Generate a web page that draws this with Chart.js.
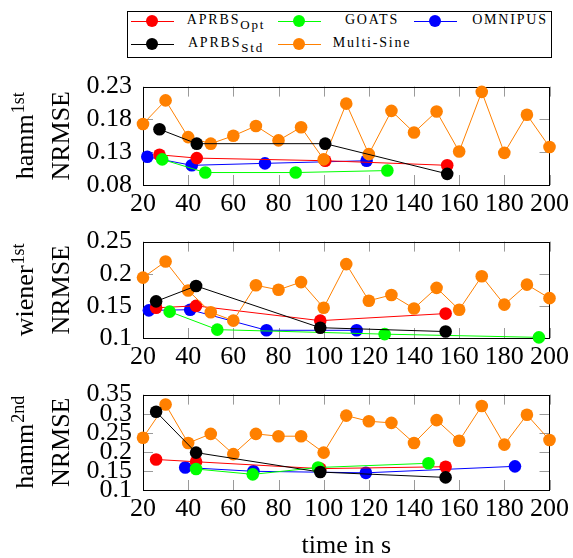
<!DOCTYPE html>
<html>
<head>
<meta charset="utf-8">
<script src="https://cdn.jsdelivr.net/npm/chart.js@4"></script>
<style>
  body { margin: 0; background: #fff; width: 573px; height: 558px; position: relative; overflow: hidden; }
  canvas { position: absolute; left: 0; }
  #legend { position: absolute; left: 127px; top: 11px; width: 425px; height: 47px; box-sizing: border-box; border: 1px solid #000;
            font-family: "Liberation Serif", serif; font-size: 14px; letter-spacing: 1.8px; color: #000; }
  .item { position: absolute; height: 14px; }
  .mark { position: absolute; width: 43px; height: 1px; top: 7px; }
  .mark i { position: absolute; left: 15px; top: -6px; width: 12px; height: 12px; border-radius: 50%; }
  .lab { position: absolute; top: -2px; text-align: center; white-space: nowrap; line-height: 16px; }
  .lab sub { font-size: 13px; vertical-align: -5px; line-height: 0; }
</style>
</head>
<body>
<div id="legend"></div>
<canvas id="p1" width="573" height="155" style="top:60px"></canvas>
<canvas id="p2" width="573" height="153" style="top:215px"></canvas>
<canvas id="p3" width="573" height="190" style="top:368px"></canvas>
<script>
// shared x values of the multi-sine runs and the x ticks
const msTime = [20, 30, 40, 50, 60, 70, 80, 90, 100, 110, 120, 130, 140, 150, 160, 170, 180, 190, 200];
const xTicks = [20, 40, 60, 80, 100, 120, 140, 160, 180, 200];

// hamm 1st
const h1Opt = [[27.3, 0.126], [43.8, 0.121], [100.7, 0.117], [154.7, 0.110]];
const h1Std = [[27.3, 0.165], [43.8, 0.143], [100.7, 0.143], [154.7, 0.097]];
const h1Goats = [[28.5, 0.119], [47.6, 0.099], [87.6, 0.099], [128.2, 0.102]];
const h1Omni = [[21.9, 0.123], [41.6, 0.110], [74.0, 0.113], [119.0, 0.117]];
const h1Ms = [0.173, 0.209, 0.153, 0.143, 0.155, 0.170, 0.148, 0.168, 0.119, 0.204, 0.127, 0.193, 0.160, 0.192, 0.131, 0.222, 0.129, 0.187, 0.138];
const h1YTicks = [0.08, 0.13, 0.18, 0.23];

// wiener 1st
const w1Opt = [[25.8, 0.147], [43.5, 0.150], [98.5, 0.127], [154.0, 0.138]];
const w1Std = [[25.8, 0.157], [43.5, 0.181], [98.5, 0.116], [154.0, 0.110]];
const w1Goats = [[31.8, 0.141], [52.9, 0.113], [127.0, 0.106], [195.3, 0.101]];
const w1Omni = [[22.6, 0.143], [40.9, 0.144], [74.7, 0.112], [114.6, 0.112]];
const w1Ms = [0.194, 0.219, 0.174, 0.140, 0.127, 0.182, 0.175, 0.187, 0.147, 0.215, 0.158, 0.167, 0.146, 0.178, 0.144, 0.196, 0.152, 0.183, 0.162];
const w1YTicks = [0.1, 0.15, 0.2, 0.25];

// hamm 2nd
const h2Opt = [[25.8, 0.180], [43.5, 0.174], [98.5, 0.156], [154.0, 0.161]];
const h2Std = [[25.8, 0.305], [43.5, 0.198], [98.5, 0.147], [154.0, 0.133]];
const h2Goats = [[43.5, 0.155], [68.6, 0.141], [97.5, 0.159], [146.4, 0.170]];
const h2Omni = [[38.7, 0.159], [68.9, 0.149], [118.7, 0.145], [184.7, 0.162]];
const h2Ms = [0.237, 0.324, 0.223, 0.247, 0.194, 0.247, 0.241, 0.241, 0.198, 0.295, 0.280, 0.276, 0.223, 0.283, 0.229, 0.320, 0.219, 0.297, 0.231];
const h2YTicks = [0.1, 0.15, 0.2, 0.25, 0.3, 0.35];

const colors = { opt: 'rgb(255,0,0)', goats: 'rgb(0,255,0)', omni: 'rgb(0,0,255)', std: 'rgb(0,0,0)', ms: 'rgb(255,128,0)' };
const FONT = '"Liberation Serif", serif';

// html legend (subscripts need real markup)
const legendItems = [
  { col: 0, row: 0, c: colors.opt, html: 'APRBS<sub>Opt</sub>' },
  { col: 1, row: 0, c: colors.goats, html: 'GOATS' },
  { col: 2, row: 0, c: colors.omni, html: 'OMNIPUS' },
  { col: 0, row: 1, c: colors.std, html: 'APRBS<sub>Std</sub>' },
  { col: 1, row: 1, c: colors.ms, html: 'Multi-Sine' }
];
const colLine = [3, 150, 286];
const colText = [50, 196, 334];
const legend = document.getElementById('legend');
legendItems.forEach(it => {
  const d = document.createElement('div');
  d.className = 'item';
  d.style.top = (it.row === 0 ? 2 : 25) + 'px';
  d.style.left = '0px';
  d.innerHTML = `<span class="mark" style="left:${colLine[it.col]}px;background:${it.c}"><i style="background:${it.c}"></i></span>
    <span class="lab" style="left:${colText[it.col]}px;width:96px">${it.html}</span>`;
  legend.appendChild(d);
});

function pts(arr) { return arr.map(p => ({ x: p[0], y: p[1] })); }

function ds(label, data, color, order) {
  return {
    label: label, data: data, borderColor: color, backgroundColor: color,
    borderWidth: 1, pointRadius: 6.3, pointBorderWidth: 0, pointBackgroundColor: color,
    tension: 0, clip: false, order: order
  };
}

const framePlugin = {
  id: 'frame',
  beforeDatasetsDraw(chart) {
    const { ctx, chartArea: a, scales: { x, y } } = chart;
    ctx.save();
    ctx.strokeStyle = '#9a9a9a';
    ctx.lineWidth = 1;
    ctx.beginPath();
    x.ticks.forEach(t => {
      const px = Math.round(x.getPixelForValue(t.value)) + 0.5;
      ctx.moveTo(px, a.bottom); ctx.lineTo(px, a.bottom - 10);
      ctx.moveTo(px, a.top); ctx.lineTo(px, a.top + 10);
    });
    y.ticks.forEach(t => {
      const py = Math.round(y.getPixelForValue(t.value)) + 0.5;
      ctx.moveTo(a.left, py); ctx.lineTo(a.left + 10, py);
      ctx.moveTo(a.right, py); ctx.lineTo(a.right - 10, py);
    });
    ctx.stroke();
    ctx.strokeStyle = '#000';
    ctx.strokeRect(Math.round(a.left) + 0.5, Math.round(a.top) + 0.5, Math.round(a.width) - 1, Math.round(a.height));
    ctx.restore();
  },
  afterDraw(chart, args, opts) {
    const { ctx, chartArea: a } = chart;
    const cy = (a.top + a.bottom) / 2;
    ctx.save();
    ctx.fillStyle = '#000';
    ctx.textBaseline = 'alphabetic';
    ctx.textAlign = 'left';
    // first line: base + superscript
    ctx.font = '26px ' + FONT;
    const wb = ctx.measureText(opts.base).width;
    ctx.font = '18px ' + FONT;
    const ws = ctx.measureText(opts.sup).width;
    ctx.translate(33, cy);
    ctx.rotate(-Math.PI / 2);
    const x0 = -(wb + ws + 1) / 2;
    ctx.font = '26px ' + FONT;
    ctx.fillText(opts.base, x0, 0);
    ctx.font = '18px ' + FONT;
    ctx.fillText(opts.sup, x0 + wb + 1, -9);
    ctx.font = '26px ' + FONT;
    const wn = ctx.measureText('NRMSE').width;
    ctx.fillText('NRMSE', -wn / 2, 36);
    ctx.restore();
    if (opts.xTitle) {
      ctx.save();
      ctx.font = '26px ' + FONT;
      ctx.fillStyle = '#000';
      ctx.textAlign = 'center';
      ctx.textBaseline = 'alphabetic';
      ctx.fillText(opts.xTitle, (a.left + a.right) / 2, opts.xTitleY);
      ctx.restore();
    }
  }
};

function makePanel(id, sets, yTicks, padTop, xAxisH, title) {
  new Chart(document.getElementById(id), {
    type: 'line',
    data: {
      datasets: [
        ds('APRBS Opt', pts(sets.opt), colors.opt, 4),
        ds('GOATS', pts(sets.goats), colors.goats, 3),
        ds('OMNIPUS', pts(sets.omni), colors.omni, 5),
        ds('APRBS Std', pts(sets.std), colors.std, 1),
        ds('Multi-Sine', msTime.map((t, i) => ({ x: t, y: sets.ms[i] })), colors.ms, 2)
      ]
    },
    options: {
      responsive: false,
      animation: false,
      events: [],
      layout: { padding: { top: padTop, right: 21, left: 0, bottom: 0 } },
      scales: {
        x: {
          type: 'linear', min: 20, max: 200,
          afterBuildTicks: s => { s.ticks = xTicks.map(v => ({ value: v })); },
          afterFit: s => { s.height = xAxisH; },
          grid: { display: false, drawTicks: false },
          border: { display: false },
          ticks: { color: '#000', font: { family: FONT, size: 26 }, padding: 4, autoSkip: false, maxRotation: 0 }
        },
        y: {
          type: 'linear', min: yTicks[0], max: yTicks[yTicks.length - 1],
          afterBuildTicks: s => { s.ticks = yTicks.map(v => ({ value: v })); },
          afterFit: s => { s.width = 143; },
          grid: { display: false, drawTicks: false },
          border: { display: false },
          ticks: { color: '#000', font: { family: FONT, size: 26 }, padding: 11, autoSkip: false,
                   callback: v => String(Number(v.toFixed(2))) }
        }
      },
      plugins: { legend: { display: false }, tooltip: { enabled: false }, frame: title }
    },
    plugins: [framePlugin]
  });
}

makePanel('p1', { opt: h1Opt, std: h1Std, goats: h1Goats, omni: h1Omni, ms: h1Ms }, h1YTicks, 18, 30,
  { base: 'hamm', sup: '1st' });
makePanel('p2', { opt: w1Opt, std: w1Std, goats: w1Goats, omni: w1Omni, ms: w1Ms }, w1YTicks, 15, 30,
  { base: 'wiener', sup: '1st' });
makePanel('p3', { opt: h2Opt, std: h2Std, goats: h2Goats, omni: h2Omni, ms: h2Ms }, h2YTicks, 15, 68,
  { base: 'hamm', sup: '2nd', xTitle: 'time in s', xTitleY: 185 });
</script>
</body>
</html>
